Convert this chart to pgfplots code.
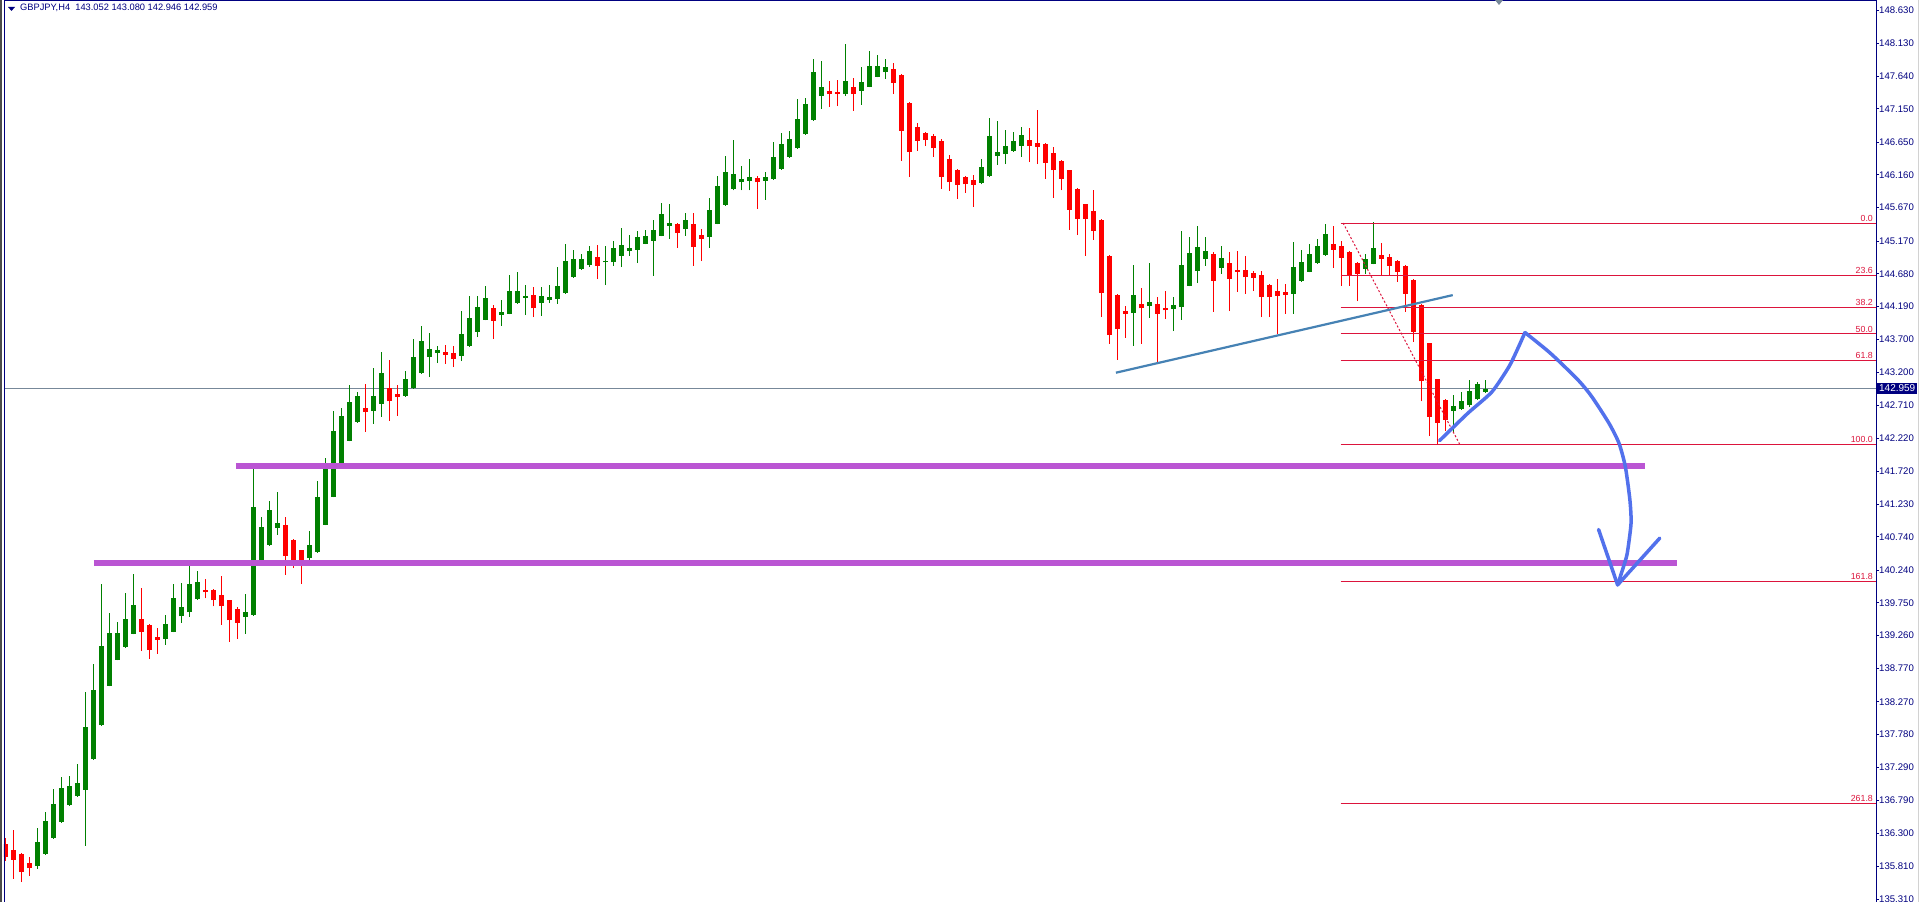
\documentclass[border=0pt]{standalone}
\usepackage{fontspec}
\setmainfont{Liberation Sans}
\usepackage{pgfplots}
\pgfplotsset{compat=1.18}
\usepackage{pgfplotstable}
\definecolor{bull}{RGB}{0,128,0}
\definecolor{bear}{RGB}{255,0,0}
\definecolor{mtnavy}{RGB}{0,0,128}
\definecolor{fib}{RGB}{220,20,60}
\definecolor{bid}{RGB}{119,136,153}
\definecolor{trend}{RGB}{70,130,180}
\definecolor{orchid}{RGB}{186,85,211}
\definecolor{pen}{RGB}{82,113,236}

\pgfplotstableread{
k o h l c
0 136.14 136.23 135.89 135.95
1 136.05 136.35 135.62 135.90
2 135.99 136.00 135.57 135.72
3 135.86 135.95 135.66 135.78
4 135.81 136.38 135.77 136.17
5 135.99 136.62 135.98 136.48
6 136.23 136.96 136.22 136.74
7 136.47 137.14 136.46 136.98
8 136.72 137.16 136.71 137.01
9 136.86 137.34 136.85 137.05
10 136.95 138.42 136.11 137.89
11 137.41 138.84 137.40 138.45
12 137.92 140.03 137.91 139.11
13 138.51 139.60 138.50 139.30
14 138.90 139.46 138.89 139.30
15 139.09 139.90 139.08 139.51
16 139.29 140.18 139.28 139.72
17 139.51 139.97 139.03 139.32
18 139.42 139.43 138.91 139.05
19 139.24 139.37 138.99 139.20
20 139.21 139.57 139.12 139.43
21 139.32 140.03 139.31 139.82
22 139.55 140.05 139.45 139.69
23 139.61 140.33 139.54 140.03
24 139.81 140.23 139.80 140.06
25 139.94 140.11 139.82 139.91
26 139.94 139.96 139.70 139.79
27 139.87 140.15 139.42 139.70
28 139.79 139.80 139.17 139.49
29 139.66 139.69 139.21 139.45
30 139.54 139.88 139.29 139.61
31 139.57 141.77 139.56 141.19
32 140.36 141.04 140.35 140.89
33 140.62 141.28 140.61 141.14
34 140.87 141.41 140.77 140.95
35 140.92 141.04 140.17 140.45
36 140.69 140.70 140.27 140.37
37 140.54 140.55 140.03 140.33
38 140.42 140.83 140.33 140.62
39 140.51 141.58 140.50 141.34
40 140.92 141.92 140.91 141.77
41 141.34 142.62 141.33 142.33
42 141.83 142.67 141.82 142.55
43 142.18 143.01 142.17 142.76
44 142.46 142.91 142.45 142.85
45 142.67 143.03 142.31 142.61
46 142.62 143.27 142.43 142.85
47 142.73 143.51 142.54 143.19
48 142.97 143.39 142.48 142.77
49 142.88 143.01 142.55 142.84
50 142.85 143.22 142.84 143.10
51 142.97 143.70 142.96 143.43
52 143.19 143.90 143.18 143.67
53 143.43 143.79 143.13 143.55
54 143.49 143.60 143.34 143.54
55 143.51 143.61 143.33 143.46
56 143.49 143.60 143.28 143.40
57 143.45 144.12 143.37 143.78
58 143.60 144.35 143.59 144.02
59 143.81 144.35 143.73 144.18
60 143.99 144.50 143.98 144.32
61 144.16 144.21 143.70 143.97
62 144.06 144.29 143.90 144.11
63 144.08 144.66 144.07 144.42
64 144.24 144.71 144.23 144.42
65 144.32 144.51 144.06 144.35
66 144.36 144.48 144.03 144.16
67 144.24 144.48 144.05 144.35
68 144.29 144.51 144.24 144.33
69 144.30 144.78 144.23 144.50
70 144.39 145.13 144.38 144.87
71 144.63 145.04 144.62 144.90
72 144.75 144.98 144.74 144.90
73 144.81 145.10 144.78 145.02
74 144.93 145.11 144.60 144.80
75 144.85 145.10 144.51 144.87
76 144.85 145.17 144.80 145.07
77 144.95 145.37 144.78 145.11
78 145.02 145.26 144.95 145.07
79 145.04 145.32 144.84 145.23
80 145.13 145.34 145.12 145.25
81 145.17 145.49 144.65 145.34
82 145.25 145.74 145.24 145.58
83 145.40 145.72 145.20 145.44
84 145.43 145.44 145.07 145.29
85 145.35 145.59 145.25 145.49
86 145.43 145.59 144.80 145.08
87 145.26 145.35 144.87 145.20
88 145.23 145.82 145.07 145.64
89 145.43 146.14 145.42 145.99
90 145.71 146.44 145.70 146.20
91 145.95 146.68 145.93 146.17
92 146.05 146.29 145.93 146.10
93 146.07 146.40 145.93 146.13
94 146.11 146.14 145.65 146.05
95 146.07 146.20 145.79 146.13
96 146.10 146.65 146.09 146.43
97 146.25 146.79 146.24 146.62
98 146.43 146.82 146.42 146.70
99 146.56 147.30 146.55 147.00
100 146.77 147.31 146.76 147.22
101 146.98 147.90 146.97 147.70
102 147.34 147.87 147.15 147.48
103 147.42 147.57 147.18 147.37
104 147.40 147.58 147.19 147.37
105 147.37 148.12 147.34 147.57
106 147.48 147.61 147.12 147.37
107 147.42 147.78 147.21 147.55
108 147.48 148.02 147.47 147.79
109 147.63 147.96 147.62 147.79
110 147.70 147.90 147.60 147.78
111 147.75 147.84 147.37 147.54
112 147.66 147.67 146.37 146.82
113 147.24 147.25 146.13 146.50
114 146.88 146.94 146.52 146.67
115 146.79 146.80 146.59 146.68
116 146.74 146.77 146.43 146.56
117 146.67 146.70 145.95 146.13
118 146.40 146.46 145.92 146.05
119 146.23 146.25 145.80 146.01
120 146.13 146.14 145.89 146.02
121 146.08 146.16 145.68 146.01
122 146.04 146.40 146.02 146.28
123 146.14 147.01 146.13 146.74
124 146.44 146.97 146.31 146.50
125 146.47 146.83 146.32 146.59
126 146.52 146.80 146.51 146.67
127 146.59 146.88 146.43 146.76
128 146.68 146.86 146.35 146.59
129 146.64 147.13 146.32 146.58
130 146.62 146.64 146.10 146.34
131 146.49 146.58 145.82 146.23
132 146.37 146.38 145.93 146.10
133 146.23 146.24 145.34 145.64
134 145.95 145.96 145.26 145.50
135 145.72 145.73 144.95 145.50
136 145.62 145.93 145.19 145.32
137 145.49 145.50 144.03 144.39
138 144.95 144.96 143.63 143.76
139 144.36 144.37 143.39 143.85
140 144.12 144.20 143.72 144.08
141 144.09 144.81 143.60 144.36
142 144.23 144.47 143.63 144.16
143 144.20 144.84 144.02 144.26
144 144.23 144.33 143.33 144.08
145 144.16 144.42 144.00 144.13
146 144.15 144.33 143.82 144.21
147 144.18 145.32 143.99 144.81
148 144.50 145.23 144.49 144.99
149 144.72 145.40 144.54 145.08
150 144.90 145.23 144.80 145.02
151 144.98 145.01 144.11 144.57
152 144.77 145.10 144.68 144.92
153 144.84 145.01 144.12 144.60
154 144.74 145.02 144.41 144.71
155 144.74 144.95 144.38 144.63
156 144.69 144.72 144.42 144.62
157 144.66 144.72 144.03 144.33
158 144.51 144.52 144.03 144.33
159 144.42 144.60 143.78 144.35
160 144.41 144.53 144.08 144.36
161 144.38 145.16 144.08 144.78
162 144.57 145.04 144.56 144.85
163 144.71 145.13 144.70 144.98
164 144.84 145.20 144.83 145.10
165 144.96 145.43 144.95 145.28
166 145.13 145.40 144.77 145.04
167 145.10 145.17 144.50 144.92
168 145.01 145.02 144.50 144.66
169 144.84 144.85 144.27 144.68
170 144.75 144.98 144.68 144.90
171 144.83 145.46 144.82 145.07
172 144.96 145.14 144.66 144.90
173 144.93 144.98 144.66 144.80
174 144.87 144.88 144.56 144.71
175 144.80 144.81 144.11 144.38
176 144.59 144.60 143.66 143.81
177 144.21 144.22 142.77 143.07
178 143.64 143.65 142.25 142.54
179 143.10 143.11 142.12 142.45
180 142.79 142.80 142.33 142.49
181 142.62 142.87 142.30 142.70
182 142.65 142.91 142.64 142.77
183 142.71 143.09 142.68 142.92
184 142.80 143.06 142.79 143.03
185 142.91 143.09 142.90 142.96
}\candles

\begin{document}
\begin{tikzpicture}[x=1pt,y=1pt]
\useasboundingbox (0,0) rectangle (1920,902);
\fill[white] (0,0) rectangle (1920,902);
\begin{axis}[
  at={(4pt,0pt)}, anchor=south west,
  scale only axis, width=1872pt, height=902pt,
  xmin=-0.1875, xmax=233.8125, ymin=135.271, ymax=148.78,
  axis x line=none, axis y line*=right,
  axis line style={mtnavy, line width=1pt},
  tick align=outside, major tick length=3pt,
  tick style={mtnavy, line width=1pt},
  ytick={148.63,148.13,147.64,147.15,146.65,146.16,145.67,145.17,144.68,144.19,143.70,143.20,142.71,142.22,141.72,141.23,140.74,140.24,139.75,139.26,138.77,138.27,137.78,137.29,136.79,136.30,135.81,135.31},
  yticklabels={148.630,148.130,147.640,147.150,146.650,146.160,145.670,145.170,144.680,144.190,143.700,143.200,142.710,142.220,141.720,141.230,140.740,140.240,139.750,139.260,138.770,138.270,137.780,137.290,136.790,136.300,135.810,135.310},
  yticklabel style={font=\fontsize{9.6}{10}\selectfont, text=mtnavy, inner sep=0pt, anchor=west},
  /pgf/number format/assume math mode=true,
]
% bid line
\addplot[bid, line width=1pt] coordinates {(-0.1875,142.959) (233.8125,142.959)};
% wicks
\addplot[draw=none, mark=none, forget plot,
  restrict expr to domain={\thisrow{c}-\thisrow{o}}{0:100},
  error bars/.cd, y dir=plus, y explicit, error mark=none,
  error bar style={draw=bull, line width=1pt, solid}]
  table[x=k, y=l, y error expr=\thisrow{h}-\thisrow{l}] {\candles};
\addplot[draw=none, mark=none, forget plot,
  restrict expr to domain={\thisrow{c}-\thisrow{o}}{-100:-0.001},
  error bars/.cd, y dir=plus, y explicit, error mark=none,
  error bar style={draw=bear, line width=1pt, solid}]
  table[x=k, y=l, y error expr=\thisrow{h}-\thisrow{l}] {\candles};
% bodies
\addplot[draw=none, mark=none, forget plot,
  restrict expr to domain={\thisrow{c}-\thisrow{o}}{0:100},
  error bars/.cd, y dir=plus, y explicit, error mark=none,
  error bar style={draw=bull, line width=5pt, solid}]
  table[x=k, y=o, y error expr={max(\thisrow{c}-\thisrow{o},0.015)}] {\candles};
\addplot[draw=none, mark=none, forget plot,
  restrict expr to domain={\thisrow{c}-\thisrow{o}}{-100:-0.001},
  error bars/.cd, y dir=plus, y explicit, error mark=none,
  error bar style={draw=bear, line width=5pt, solid}]
  table[x=k, y=c, y error expr=\thisrow{o}-\thisrow{c}] {\candles};
% fibonacci levels
\addplot[fib, line width=1pt] coordinates {(166.9,145.440) (233.8125,145.440)};
\addplot[fib, line width=1pt] coordinates {(166.9,144.656) (233.8125,144.656)};
\addplot[fib, line width=1pt] coordinates {(166.9,144.172) (233.8125,144.172)};
\addplot[fib, line width=1pt] coordinates {(166.9,143.780) (233.8125,143.780)};
\addplot[fib, line width=1pt] coordinates {(166.9,143.388) (233.8125,143.388)};
\addplot[fib, line width=1pt] coordinates {(166.9,142.120) (233.8125,142.120)};
\addplot[fib, line width=1pt] coordinates {(166.9,140.068) (233.8125,140.068)};
\addplot[fib, line width=1pt] coordinates {(166.9,136.748) (233.8125,136.748)};
\addplot[fib, line width=1pt, dash pattern=on 2pt off 2pt] coordinates {(167.2,145.44) (181.8,142.12)};
% trend line
\addplot[trend, line width=2.2pt] coordinates {(138.8,143.198) (180.9,144.36)};
% support lines
\addplot[orchid, line width=6pt] coordinates {(28.8,141.80) (204.9,141.80)};
\addplot[orchid, line width=6pt] coordinates {(11.06,140.35) (208.9,140.35)};
% hand drawn arrow
\addplot[pen, line width=3.5pt, smooth, tension=0.4, line cap=round] coordinates {
  (179.25,142.18) (182.78,142.59) (185.79,142.91) (187.94,143.29) (189.15,143.59) (189.93,143.80)};
\addplot[pen, line width=3.5pt, smooth, tension=0.4, line cap=round] coordinates {
  (189.93,143.80) (193.11,143.49) (196.56,143.09) (198.28,142.84) (200.44,142.44) (201.69,142.14)
  (202.48,141.79) (203.05,141.29) (203.19,140.94) (202.71,140.49) (202.24,140.29) (201.51,140.02)};
\addplot[pen, line width=3.5pt, line cap=round, line join=round] coordinates {
  (199.13,140.85) (201.51,140.02) (206.78,140.72)};
% fib labels
\foreach \v/\t in {145.440/0.0,144.656/23.6,144.172/38.2,143.780/50.0,143.388/61.8,142.120/100.0,140.068/161.8,136.748/261.8}{
  \edef\tmp{\noexpand\node[anchor=south east, inner sep=0pt, yshift=1.5pt, text=fib, font=\noexpand\fontsize{8.8}{9}\noexpand\selectfont] at (axis cs:233.44,\v) {\t};}\tmp
}
\end{axis}
% frame
\draw[gray!60!black, line width=2pt] (1,0) -- (1,902);
\draw[mtnavy, line width=1pt] (4.5,0) -- (4.5,902);
\draw[mtnavy, line width=1pt] (4,901.5) -- (1876,901.5);
\draw[gray!35, line width=1.5pt] (1918.5,0) -- (1918.5,902);
\fill[bid] (1495,902) -- (1503,902) -- (1499,897) -- cycle;
% header
\fill[mtnavy] (8,895) -- (15,895) -- (11.5,891) -- cycle;
\node[anchor=west, inner sep=0pt, text=mtnavy, font=\fontsize{9.3}{10}\selectfont] at (20,894.5) {GBPJPY,H4\ \ 143.052 143.080 142.946 142.959};
% price box
\node[fill=mtnavy, text=white, anchor=west, inner sep=0pt, minimum width=40pt, minimum height=11pt, font=\fontsize{10}{10}\selectfont] at (1877,513.7) {142.959};
\end{tikzpicture}
\end{document}
